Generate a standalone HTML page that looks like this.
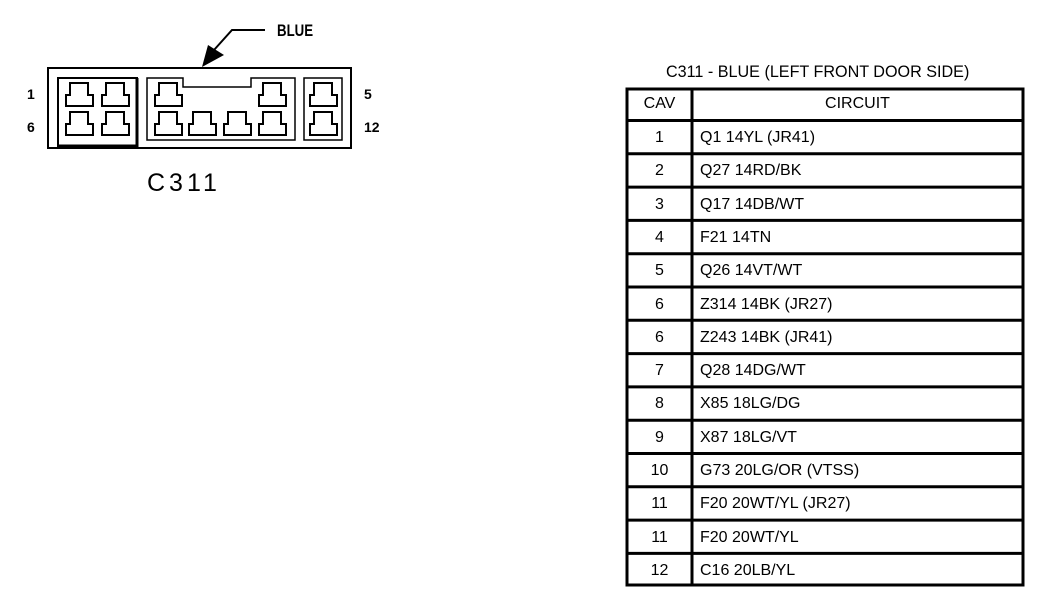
<!DOCTYPE html>
<html><head><meta charset="utf-8"><style>
html,body{margin:0;padding:0;background:#fff;}
body{width:1056px;height:616px;position:relative;overflow:hidden;font-family:"Liberation Sans",sans-serif;color:#000;}
.t{position:absolute;white-space:nowrap;}
</style></head><body>
<svg width="1056" height="616" style="position:absolute;left:0;top:0" xmlns="http://www.w3.org/2000/svg">
<defs>
<path id="pin" d="M4,0 H22 V12 H27 V23 H0 V12 H4 Z" fill="none" stroke="#000" stroke-width="2"/>
</defs>
<path d="M265,30 H232 L214,50" fill="none" stroke="#000" stroke-width="2"/>
<path d="M202,67 L208,45 L224,55 Z" fill="#000"/>
<rect x="48" y="68" width="303" height="80" fill="none" stroke="#000" stroke-width="2"/>
<rect x="58" y="78" width="79" height="68" fill="none" stroke="#000" stroke-width="2"/>
<path d="M137,78 V146 H59" fill="none" stroke="#000" stroke-width="3"/>
<path d="M147,78 H183 V87 H251 V78 H295 V140 H147 Z" fill="none" stroke="#000" stroke-width="1.5"/>
<rect x="304" y="78" width="38" height="62" fill="none" stroke="#000" stroke-width="1.5"/>
<use href="#pin" x="66" y="83"/><use href="#pin" x="102" y="83"/>
<use href="#pin" x="66" y="112"/><use href="#pin" x="102" y="112"/>
<use href="#pin" x="155" y="83"/><use href="#pin" x="259" y="83"/>
<use href="#pin" x="155" y="112"/><use href="#pin" x="189" y="112"/><use href="#pin" x="224" y="112"/><use href="#pin" x="259" y="112"/>
<use href="#pin" x="310" y="83"/><use href="#pin" x="310" y="112"/>
<rect x="627" y="89" width="396" height="496" fill="none" stroke="#000" stroke-width="3"/>
<line x1="692" y1="89" x2="692" y2="585" stroke="#000" stroke-width="3"/>
<line x1="627" y1="120.5" x2="1023" y2="120.5" stroke="#000" stroke-width="3"/>
<g id="rl" stroke="#000" stroke-width="3"></g>
</svg>
<div class="t" style="left:277px;top:21px;font-size:17px;font-weight:bold;transform:scaleX(0.78);transform-origin:left">BLUE</div>
<div class="t" style="left:27px;top:86px;font-size:14px;font-weight:bold">1</div>
<div class="t" style="left:27px;top:119px;font-size:14px;font-weight:bold">6</div>
<div class="t" style="left:364px;top:86px;font-size:14px;font-weight:bold">5</div>
<div class="t" style="left:364px;top:119px;font-size:14px;font-weight:bold">12</div>
<div class="t" style="left:147px;top:169px;font-size:25px;letter-spacing:4px">C311</div>
<div class="t" style="left:666px;top:62px;font-size:17px;transform:scaleX(0.95);transform-origin:left">C311 - BLUE (LEFT FRONT DOOR SIDE)</div>
<div class="t" style="left:627px;top:95px;width:65px;text-align:center;font-size:16px">CAV</div>
<div class="t" style="left:692px;top:95px;width:331px;text-align:center;font-size:16px">CIRCUIT</div>
<div id="rows"></div>
<script>
var d=[["1","Q1 14YL (JR41)"],["2","Q27 14RD/BK"],["3","Q17 14DB/WT"],["4","F21 14TN"],["5","Q26 14VT/WT"],["6","Z314 14BK (JR27)"],["6","Z243 14BK (JR41)"],["7","Q28 14DG/WT"],["8","X85 18LG/DG"],["9","X87 18LG/VT"],["10","G73 20LG/OR (VTSS)"],["11","F20 20WT/YL (JR27)"],["11","F20 20WT/YL"],["12","C16 20LB/YL"]];
var h="",g="",p=33.3;
for(var i=0;i<d.length;i++){var y=120.5+i*p;
h+='<div class="t" style="left:627px;top:'+(y+8.5)+'px;width:65px;text-align:center;font-size:16px">'+d[i][0]+'</div>';
h+='<div class="t" style="left:700px;top:'+(y+8.5)+'px;font-size:16px">'+d[i][1]+'</div>';
if(i>0)g+='<line x1="627" y1="'+y+'" x2="1023" y2="'+y+'"/>';}
document.getElementById("rows").innerHTML=h;
document.getElementById("rl").innerHTML=g;
</script>
</body></html>
